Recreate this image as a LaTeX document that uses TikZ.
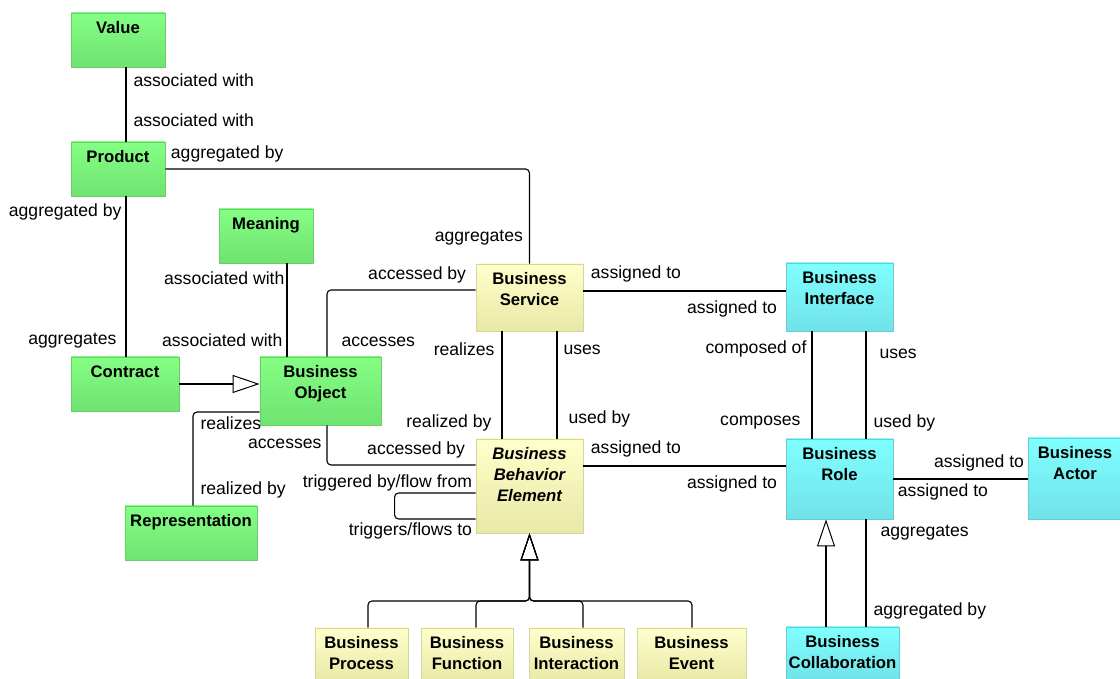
\documentclass[tikz,border=0pt]{standalone}
\usepackage{fontspec}
\setmainfont{Liberation Sans}
\usetikzlibrary{arrows.meta}

\definecolor{grnTop}{RGB}{132,255,132}
\definecolor{grnBot}{RGB}{112,226,112}
\definecolor{grnEdge}{RGB}{104,206,104}
\definecolor{ylwTop}{RGB}{255,255,204}
\definecolor{ylwBot}{RGB}{232,232,166}
\definecolor{ylwEdge}{RGB}{214,214,156}
\definecolor{cynTop}{RGB}{128,255,255}
\definecolor{cynBot}{RGB}{112,226,232}
\definecolor{cynEdge}{RGB}{100,206,214}

\begin{document}
\begin{tikzpicture}[
		x=1pt, y=1pt,
		box/.style={rectangle, line width=0.8pt, minimum height=54pt},
		grn/.style={box, draw=grnEdge, top color=grnTop, bottom color=grnBot},
		ylw/.style={box, draw=ylwEdge, top color=ylwTop, bottom color=ylwBot},
		cyn/.style={box, draw=cynEdge, top color=cynTop, bottom color=cynBot},
		txt/.style={anchor=north, align=center, inner sep=0pt, yshift=-9pt, font=\fontsize{16.7}{21}\selectfont\bfseries},
		txtit/.style={txt, font=\fontsize{16.7}{21}\selectfont\bfseries\itshape},
		lbl/.style={inner sep=0pt, font=\fontsize{17.6}{20}\selectfont},
		rel/.style={line width=1.1pt, rounded corners=4pt},
		spec/.style={rel, -{Triangle[open, length=27pt, width=18pt, line width=1pt]}}
	]
  \useasboundingbox (0,0) rectangle (1120,679);

  \node (value) [grn, minimum width=94pt, label={[txt]north:Value}] at (118,639) {};
  \node (product) [grn, minimum width=94pt, label={[txt]north:Product}] at (118,510) {};
  \node (meaning) [grn, minimum width=94pt, label={[txt]north:Meaning}] at (266,443) {};
  \node (contract) [grn, minimum width=108pt, label={[txt]north:Contract}] at (125,295) {};
  \node (bobject) [grn, minimum width=121pt, minimum height=68pt, label={[txt]north:{Business\\Object}}] at (320.5,288) {};
  \node (repr) [grn, minimum width=132pt, label={[txt]north:Representation}] at (191,146) {};
  \node (service) [ylw, minimum width=107pt, minimum height=67pt, label={[txt]north:{Business\\Service}}] at (529.5,381.5) {};
  \node (bbe) [ylw, minimum width=107pt, minimum height=94pt, label={[txtit]north:{Business\\Behavior\\Element}}] at (529.5,193) {};
  \node (iface) [cyn, minimum width=107pt, minimum height=68pt, label={[txt]north:{Business\\Interface}}] at (839.5,382) {};
  \node (role) [cyn, minimum width=107pt, minimum height=80pt, label={[txt]north:{Business\\Role}}] at (839.5,200) {};
  \node (actor) [cyn, minimum width=94pt, minimum height=81pt, label={[txt]north:{Business\\Actor}}] at (1075,200.5) {};
  \node (process) [ylw, minimum width=93pt, label={[txt]north:{Business\\Process}}] at (361.5,24) {};
  \node (function) [ylw, minimum width=92pt, label={[txt]north:{Business\\Function}}] at (467,24) {};
  \node (interaction) [ylw, minimum width=95pt, label={[txt]north:{Business\\Interaction}}] at (576.5,24) {};
  \node (event) [ylw, minimum width=109pt, label={[txt]north:{Business\\Event}}] at (691.5,24) {};
  \node (collab) [cyn, minimum width=113pt, label={[txt]north:{Business\\Collaboration}}] at (842.5,25) {};
  \coordinate (genbus) at (529.5,78);

  \draw[rel] ([xshift=8]value.south) -- ([xshift=8]product.north)
    node[lbl, pos=0, anchor=west, xshift=7, yshift=-13] {associated with}
    node[lbl, pos=1, anchor=west, xshift=7, yshift=21] {associated with};
  \draw[rel] (product.east) -| (service.north)
    node[lbl, pos=0, anchor=west, xshift=5, yshift=15] {aggregated by}
    node[lbl, pos=1, anchor=east, xshift=-6, yshift=26] {aggregates};
  \draw[rel] ([xshift=8]product.south) -- ([xshift=8]product.south |- contract.north)
    node[lbl, pos=0, anchor=east, xshift=-4, yshift=-16] {aggregated by}
    node[lbl, pos=1, anchor=east, xshift=-9, yshift=16] {aggregates};
  \draw[rel] ([xshift=21]meaning.south) -- ([xshift=21]meaning.south |- bobject.north)
    node[lbl, pos=0, anchor=east, xshift=-2, yshift=-15] {associated with}
    node[lbl, pos=1, anchor=east, xshift=-4, yshift=16] {associated with};
  \draw[spec] (contract.east) -- (contract.east -| bobject.west);
  \draw[rel] ([xshift=6.5]bobject.north) |- ([yshift=7.5]service.west)
    node[lbl, pos=0, anchor=west, xshift=14, yshift=15] {accesses}
    node[lbl, pos=1, anchor=east, xshift=-9, yshift=15] {accessed by};
  \draw[rel] ([xshift=6.5]bobject.south) |- ([yshift=21]bbe.west)
    node[lbl, pos=0, anchor=east, xshift=-5, yshift=-18] {accesses}
    node[lbl, pos=1, anchor=east, xshift=-10, yshift=15] {accessed by};
  \draw[rel] ([xshift=2]repr.north) |- ([yshift=-21]bobject.west)
    node[lbl, pos=0, anchor=west, xshift=7, yshift=16] {realized by}
    node[lbl, pos=0.5, anchor=west, xshift=7, yshift=-11] {realizes};
  \draw[rel] ([xshift=-27.5]service.south) -- ([xshift=-27.5]bbe.north)
    node[lbl, pos=0, anchor=east, xshift=-7, yshift=-18] {realizes}
    node[lbl, pos=1, anchor=east, xshift=-10, yshift=16] {realized by};
  \draw[rel] ([xshift=27.5]service.south) -- ([xshift=27.5]bbe.north)
    node[lbl, pos=0, anchor=west, xshift=6, yshift=-18] {uses}
    node[lbl, pos=1, anchor=west, xshift=11, yshift=20] {used by};
  \draw[rel] ([yshift=6.5]service.east) -- ([yshift=6.5]service.east -| iface.west)
    node[lbl, pos=0, anchor=west, xshift=7, yshift=17] {assigned to}
    node[lbl, pos=1, anchor=east, xshift=-8, yshift=-18] {assigned to};
  \draw[rel] ([yshift=20]bbe.east) -- ([yshift=20]bbe.east -| role.west)
    node[lbl, pos=0, anchor=west, xshift=7, yshift=17] {assigned to}
    node[lbl, pos=1, anchor=east, xshift=-8, yshift=-18] {assigned to};
  \draw[rel] ([xshift=-27.5]iface.south) -- ([xshift=-27.5]role.north)
    node[lbl, pos=0, anchor=east, xshift=-5, yshift=-18] {composed of}
    node[lbl, pos=1, anchor=east, xshift=-11, yshift=16] {composes};
  \draw[rel] ([xshift=26.5]iface.south) -- ([xshift=26.5]role.north)
    node[lbl, pos=0, anchor=west, xshift=13, yshift=-22] {uses}
    node[lbl, pos=1, anchor=west, xshift=7, yshift=16] {used by};
  \draw[rel] (role.east) -- (role.east -| actor.west)
    node[lbl, pos=0, anchor=west, xshift=4, yshift=-13] {assigned to}
    node[lbl, pos=1, anchor=east, xshift=-3, yshift=16] {assigned to};
  \draw[rel] ([yshift=-7]bbe.west) -- ++(-81,0)
    node[lbl, pos=0, anchor=east, xshift=-3, yshift=10] {triggered by/flow from}
    -- ++(0,-26) -- ([yshift=-33]bbe.west)
    node[lbl, pos=1, anchor=east, xshift=-3, yshift=-12] {triggers/flows to};
  \foreach \n/\dx in {process/6.5, function/9, interaction/6.5, event/0.5}
    \draw[spec] ([xshift=\dx]\n.north) |- (genbus) -- (bbe.south);
  \draw[spec] ([xshift=-16.5]collab.north) -- ([xshift=-16.5]collab.north |- role.south);
  \draw[rel] ([xshift=26.5]role.south) -- ([xshift=26.5]role.south |- collab.north)
    node[lbl, pos=0, anchor=west, xshift=14, yshift=-13] {aggregates}
    node[lbl, pos=1, anchor=west, xshift=7, yshift=16] {aggregated by};
\end{tikzpicture}
\end{document}
